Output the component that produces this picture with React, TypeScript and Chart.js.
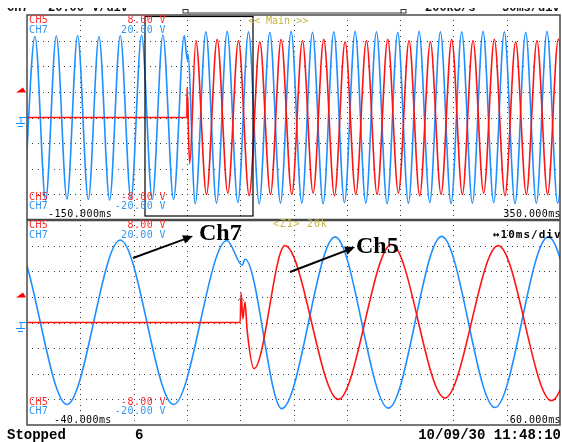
import React, { useEffect, useRef } from "react";
import { Chart, registerables } from "chart.js";

Chart.register(...registerables);

// ---------- data ----------
// CH7 (blue) extrema: time in ms, value in V
const ch7Times = [
  -152.5, -142.5, -132.5, -122.5, -112.5, -102.5, -92.5, -82.5, -72.5, -62.5, -52.5, -42.5, -32.5, -22.5, -12.5, -2.5,
  0.4, 0.9,
  7.8, 17.8, 27.8, 37.8, 47.8, 57.8, 67.8, 77.8, 87.8, 97.8, 107.8, 117.8, 127.8, 137.8, 147.8, 157.8, 167.8, 177.8,
  187.8, 197.8, 207.8, 217.8, 227.8, 237.8, 247.8, 257.8, 267.8, 277.8, 287.8, 297.8, 307.8, 317.8, 327.8, 337.8, 347.8, 357.8,
];
const ch7Volts = [
  -16, 15.8, -16.1, 15.9, -15.9, 16, -16, 15.8, -16.1, 16, -15.9, 16.1, -16, 16.1, -16, 16,
  11.2, 12.4,
  -16.8, 16.7, -16.7, 16.8, -16.6, 16.7, -16.8, 16.6, -16.7, 16.8, -16.7, 16.6, -16.8, 16.7, -16.6, 16.8, -16.7, 16.7,
  -16.8, 16.6, -16.7, 16.8, -16.6, 16.7, -16.8, 16.7, -16.7, 16.8, -16.6, 16.7, -16.8, 16.6, -16.7, 16.8, -16.7, 16.7,
];
// CH5 (red): flat before the switch, transient, then extrema
const ch5Times = [
  -160, 0, 0.15, 0.5, 0.9, 1.3, 2.6,
  8.4, 18.4, 28.4, 38.4, 48.4, 58.4, 68.4, 78.4, 88.4, 98.4, 108.4, 118.4, 128.4, 138.4, 148.4, 158.4, 168.4, 178.4,
  188.4, 198.4, 208.4, 218.4, 228.4, 238.4, 248.4, 258.4, 268.4, 278.4, 288.4, 298.4, 308.4, 318.4, 328.4, 338.4, 348.4, 358.4,
];
const ch5Volts = [
  0, 0, 2.3, 0.3, 1.6, -0.6, -3.6,
  6.0, -6.0, 6.1, -5.9, 6.0, -6.1, 5.9, -6.0, 6.1, -6.0, 6.0, -5.9, 6.1, -6.1, 5.9, -6.0, 6.0, -6.0,
  6.1, -5.9, 6.0, -6.1, 5.9, -6.0, 6.1, -6.0, 6.0, -5.9, 6.1, -6.1, 5.9, -6.0, 6.0, -6.0, 6.1, -6.0,
];

const mainRange = [-150, 350];
const zoomRange = [-40, 60];
const ch5Range = [-8, 8];
const ch7Range = [-20, 20];

const mainTimeLabels = ["-150.000ms", "350.000ms"];
const zoomTimeLabels = ["-40.000ms", "60.000ms"];
const ch5Labels = ["8.00 V", "-8.00 V"];
const ch7Labels = ["20.00 V", "-20.00 V"];

// ---------- styles ----------
const RED = "#ff1414";
const BLUE = "#1e8fff";
const LRED = "#ff2a2a";
const LBLUE = "#2f95f5";
const OLIVE = "#c2b63c";

const pts = (ts: number[], vs: number[]) => ts.map((t, i) => ({ x: t, y: vs[i] }));

const scopeGrid = {
  id: "scopeGrid",
  beforeDatasetsDraw(chart: any) {
    const { ctx, chartArea: a, scales } = chart;
    const xs = scales.x;
    const ys = scales.y7;
    ctx.save();
    ctx.fillStyle = "#3a3a3a";
    const xDiv = (xs.max - xs.min) / 10;
    const yDiv = (ys.max - ys.min) / 8;
    const vStep = (a.bottom - a.top) / 40;
    for (let i = 1; i < 10; i++) {
      const px = Math.round(xs.getPixelForValue(xs.min + i * xDiv));
      for (let k = 1; k < 40; k++) ctx.fillRect(px, Math.round(a.top + k * vStep), 1, 1);
    }
    const hStep = (a.right - a.left) / 100;
    for (let j = 1; j < 8; j++) {
      const py = Math.round(ys.getPixelForValue(ys.min + j * yDiv));
      for (let k = 1; k < 100; k++) ctx.fillRect(Math.round(a.left + k * hStep), py, 1, 1);
    }
    ctx.restore();
  },
};

function makeChart(canvas: HTMLCanvasElement, xr: number[]) {
  return new Chart(canvas, {
    type: "line",
    data: {
      datasets: [
        {
          label: "CH5",
          data: pts(ch5Times, ch5Volts),
          yAxisID: "y5",
          borderColor: RED,
          borderWidth: 1.6,
          pointRadius: 0,
          cubicInterpolationMode: "monotone",
          fill: false,
        },
        {
          label: "CH7",
          data: pts(ch7Times, ch7Volts),
          yAxisID: "y7",
          borderColor: BLUE,
          borderWidth: 1.6,
          pointRadius: 0,
          cubicInterpolationMode: "monotone",
          fill: false,
        },
      ],
    },
    options: {
      animation: false,
      responsive: false,
      maintainAspectRatio: false,
      events: [],
      layout: { padding: 0 },
      scales: {
        x: { type: "linear", min: xr[0], max: xr[1], display: false },
        y5: { type: "linear", min: ch5Range[0], max: ch5Range[1], display: false },
        y7: { type: "linear", min: ch7Range[0], max: ch7Range[1], display: false },
      },
      plugins: { legend: { display: false }, tooltip: { enabled: false } },
    } as any,
    plugins: [scopeGrid as any],
  });
}

const FONT_B: Record<string, number> = { mono: 0.846, lmono: 0.766, serif: 0.8375 };
const FAM: Record<string, string> = {
  mono: '"DejaVu Sans Mono", monospace',
  lmono: '"Liberation Mono", monospace',
  serif: '"Liberation Serif", serif',
};

function Label(props: {
  x: number; base: number; size: number; fam: string; color: string;
  bold?: boolean; right?: boolean; spacing?: number; children: any;
}) {
  const { x, base, size, fam, color, bold, right, spacing, children } = props;
  const style: any = {
    position: "absolute",
    top: base - FONT_B[fam] * size,
    fontFamily: FAM[fam],
    fontSize: size,
    lineHeight: `${size}px`,
    color,
    fontWeight: bold ? "bold" : "normal",
    whiteSpace: "pre",
    letterSpacing: spacing ? `${spacing}px` : undefined,
  };
  if (right) style.right = 562 - x;
  else style.left = x;
  return <div style={style}>{children}</div>;
}

function PanelLabels({ top, bottom, timeL, timeR, timeLx }: { top: number; bottom: number; timeL: string; timeR: string; timeLx: number }) {
  const s = 10;
  const sp = 0.4;
  return (
    <>
      <Label x={29} base={top + 8.3} size={s} fam="mono" color={LRED} spacing={sp}>CH5</Label>
      <Label x={166} base={top + 8.3} size={s} fam="mono" color={LRED} spacing={sp} right>{ch5Labels[0]}</Label>
      <Label x={29} base={top + 18} size={s} fam="mono" color={LBLUE} spacing={sp}>CH7</Label>
      <Label x={166} base={top + 18} size={s} fam="mono" color={LBLUE} spacing={sp} right>{ch7Labels[0]}</Label>
      <Label x={29} base={bottom - 19.5} size={s} fam="mono" color={LRED} spacing={sp}>CH5</Label>
      <Label x={166} base={bottom - 19.5} size={s} fam="mono" color={LRED} spacing={sp} right>{ch5Labels[1]}</Label>
      <Label x={29} base={bottom - 10.5} size={s} fam="mono" color={LBLUE} spacing={sp}>CH7</Label>
      <Label x={166} base={bottom - 10.5} size={s} fam="mono" color={LBLUE} spacing={sp} right>{ch7Labels[1]}</Label>
      <Label x={timeLx} base={bottom - 2} size={s} fam="mono" color="#000" spacing={sp}>{timeL}</Label>
      <Label x={561} base={bottom - 2} size={s} fam="mono" color="#000" spacing={sp} right>{timeR}</Label>
    </>
  );
}

export default function App() {
  const topRef = useRef<HTMLCanvasElement | null>(null);
  const botRef = useRef<HTMLCanvasElement | null>(null);

  useEffect(() => {
    const c1 = makeChart(topRef.current!, mainRange);
    const c2 = makeChart(botRef.current!, zoomRange);
    return () => {
      c1.destroy();
      c2.destroy();
    };
  }, []);

  return (
    <div
      style={{
        position: "fixed", left: 0, top: 0, width: 562, height: 442,
        background: "#fff", overflow: "hidden",
      }}
    >
      <canvas ref={topRef} width={533} height={205}
        style={{ position: "absolute", left: 27, top: 15, width: 533, height: 205 }} />
      <canvas ref={botRef} width={533} height={205}
        style={{ position: "absolute", left: 27, top: 220, width: 533, height: 205 }} />

      <svg width={562} height={442} style={{ position: "absolute", left: 0, top: 0, pointerEvents: "none" }}>
        {/* panel frames */}
        <rect x={27} y={15} width={533} height={204.5} fill="none" stroke="#4a4a4a" strokeWidth={1.5} />
        <rect x={27} y={220.5} width={533} height={204.5} fill="none" stroke="#4a4a4a" strokeWidth={1.5} />
        {/* zoom window */}
        <rect x={145} y={16.5} width={108} height={199.5} fill="none" stroke="#000" strokeWidth={1.2} />
        {/* header record bar */}
        <rect x={183} y={9.5} width={5} height={3.5} fill="none" stroke="#333" strokeWidth={1} />
        <line x1={188} y1={13} x2={401} y2={13} stroke="#333" strokeWidth={1} />
        <rect x={401} y={9.5} width={5} height={3.5} fill="none" stroke="#333" strokeWidth={1} />
        {/* trigger level markers */}
        <polygon points="16,92.5 26,92.5 23,87.5" fill="#ff0000" />
        <polygon points="16,297.5 26,297.5 23,292.5" fill="#ff0000" />
        {/* ground markers */}
        {[117.5, 322.5].map((y) => (
          <g key={y} stroke={BLUE} strokeWidth={1}>
            <line x1={19} y1={y} x2={27} y2={y} />
            <line x1={21} y1={y} x2={21} y2={y + 5.5} />
            <line x1={16} y1={y + 6} x2={25} y2={y + 6} />
            <line x1={18} y1={y + 9} x2={23} y2={y + 9} />
          </g>
        ))}
        {/* trigger point carets */}
        <polyline points="185,96 188,92 191,96" fill="none" stroke="#777" strokeWidth={1} />
        <polyline points="238,301 241,297 244,301" fill="none" stroke="#777" strokeWidth={1} />
        {/* annotation arrows */}
        <line x1={133} y1={258} x2={184} y2={239.4} stroke="#000" strokeWidth={2} />
        <polygon points="193,236 185.1,243.6 182.1,235.2" fill="#000" />
        <line x1={290} y1={272} x2={346} y2={250.6} stroke="#000" strokeWidth={2} />
        <polygon points="355,247 347.3,254.8 344.1,246.4" fill="#000" />
      </svg>

      {/* header (cut off at top) */}
      <div style={{ position: "absolute", left: 0, top: 8, width: 562, height: 4, overflow: "hidden" }}>
        {[
          ["CH7", 7],
          ["20.00", 48],
          ["V/div", 92],
          ["200kS/s", 425],
          ["50ms/div", 502],
        ].map(([t, x]) => (
          <div key={t as string} style={{
            position: "absolute", left: x as number, top: 11.5 - 8 - 0.766 * 12,
            fontFamily: FAM.lmono, fontSize: 12, lineHeight: "12px", fontWeight: "bold", whiteSpace: "pre", color: "#111",
          }}>{t}</div>
        ))}
      </div>

      <PanelLabels top={15} bottom={219.5} timeL={mainTimeLabels[0]} timeR={mainTimeLabels[1]} timeLx={48} />
      <PanelLabels top={220.5} bottom={425} timeL={zoomTimeLabels[0]} timeR={zoomTimeLabels[1]} timeLx={54} />

      <Label x={248} base={24} size={10} fam="mono" color={OLIVE} spacing={0}>{"<< Main >>"}</Label>
      <Label x={273} base={227.5} size={10} fam="mono" color={OLIVE} spacing={0.8}>{"<Z1> 20k"}</Label>
      <Label x={493} base={238} size={11} fam="mono" color="#000" bold spacing={1}>{"↔10ms/div"}</Label>

      <Label x={199} base={240} size={24} fam="serif" color="#000" bold>Ch7</Label>
      <Label x={356} base={253} size={24} fam="serif" color="#000" bold>Ch5</Label>

      <Label x={7} base={438.5} size={14} fam="lmono" color="#000" bold>Stopped</Label>
      <Label x={135} base={438.5} size={14} fam="lmono" color="#000" bold>6</Label>
      <Label x={561} base={438.5} size={14} fam="lmono" color="#000" bold right>10/09/30 11:48:10</Label>
    </div>
  );
}
